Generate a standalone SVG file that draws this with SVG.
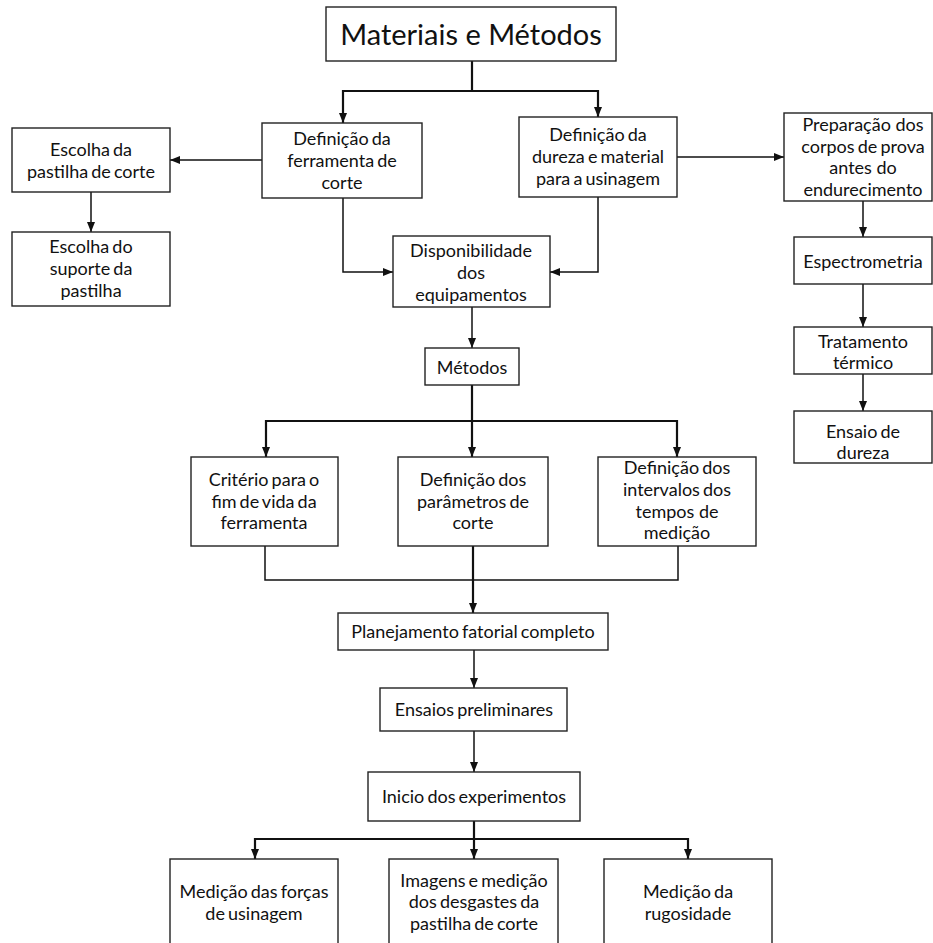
<svg xmlns="http://www.w3.org/2000/svg" width="933" height="943" viewBox="0 0 933 943">
<defs>
<style>
.box{fill:#fff;stroke:#222;stroke-width:1.4}
.t{font-family:Lato,"Open Sans",sans-serif;font-size:18px;fill:#111;text-anchor:middle;word-spacing:-1.5px}
.ws{word-spacing:0}
.title{font-family:Lato,"Open Sans",sans-serif;font-size:29px;fill:#111;text-anchor:middle}
.c{fill:none;stroke:#111;stroke-width:1.5}
.c2{fill:none;stroke:#111;stroke-width:2.2}
</style>
<marker id="ah" markerUnits="userSpaceOnUse" markerWidth="10" markerHeight="10" viewBox="0 0 10 10" refX="10" refY="5" orient="auto">
<path d="M0,1 L10,5 L0,9 Z" fill="#111"/>
</marker>
</defs>
<rect width="933" height="943" fill="#fff"/>
<g id="connectors">
<path class="c2" d="M472,61 V91 H343 V123" marker-end="url(#ah)"/>
<path class="c2" d="M472,91 H598 V117" marker-end="url(#ah)"/>
<path class="c" d="M262,160 H170" marker-end="url(#ah)"/>
<path class="c" d="M91,192 V232" marker-end="url(#ah)"/>
<path class="c" d="M343,198 V272 H393" marker-end="url(#ah)"/>
<path class="c" d="M598,197 V272 H550" marker-end="url(#ah)"/>
<path class="c" d="M677,157 H784" marker-end="url(#ah)"/>
<path class="c" d="M863,201 V237" marker-end="url(#ah)"/>
<path class="c" d="M863,284 V327" marker-end="url(#ah)"/>
<path class="c" d="M863,374 V411" marker-end="url(#ah)"/>
<path class="c" d="M472,307 V348" marker-end="url(#ah)"/>
<path class="c2" d="M472,385 V421 H266 V457" marker-end="url(#ah)"/>
<path class="c2" d="M472,421 V457" marker-end="url(#ah)"/>
<path class="c2" d="M472,421 H677 V457" marker-end="url(#ah)"/>
<path class="c" d="M265,546 V580 H678 V546"/>
<path class="c2" d="M473,546 V613" marker-end="url(#ah)"/>
<path class="c" d="M474,650 V688" marker-end="url(#ah)"/>
<path class="c" d="M474,731 V772" marker-end="url(#ah)"/>
<path class="c2" d="M474,821 V839 H255 V859" marker-end="url(#ah)"/>
<path class="c2" d="M474,839 V859" marker-end="url(#ah)"/>
<path class="c2" d="M474,839 H688 V859" marker-end="url(#ah)"/>
</g>
<g id="title"><rect class="box" x="326" y="7" width="290" height="54"/><text class="title" x="471" y="45">Materiais e Métodos</text></g>
<g id="escolhaPastilha"><rect class="box" x="12" y="128" width="158" height="64"/><text class="t" x="91" y="156">Escolha da</text><text class="t" x="91" y="178">pastilha de corte</text></g>
<g id="escolhaSuporte"><rect class="box" x="12" y="232" width="158" height="74"/><text class="t" x="91" y="253">Escolha do</text><text class="t" x="91" y="275">suporte da</text><text class="t" x="91" y="297">pastilha</text></g>
<g id="ferramenta"><rect class="box" x="262" y="123" width="160" height="75"/><text class="t" x="342" y="145">Definição da</text><text class="t" x="342" y="167">ferramenta de</text><text class="t" x="342" y="189">corte</text></g>
<g id="dureza"><rect class="box" x="519" y="117" width="158" height="80"/><text class="t" x="598" y="141">Definição da</text><text class="t" x="598" y="163">dureza e material</text><text class="t" x="598" y="185">para a usinagem</text></g>
<g id="disponibilidade"><rect class="box" x="393" y="236" width="157" height="71"/><text class="t" x="471" y="257">Disponibilidade</text><text class="t" x="471" y="279">dos</text><text class="t" x="471" y="300.5">equipamentos</text></g>
<g id="preparacao"><rect class="box" x="784" y="113" width="148" height="88"/><text class="t ws" x="863" y="131">Preparação dos</text><text class="t" x="863" y="153">corpos de prova</text><text class="t ws" x="863" y="174">antes do</text><text class="t" x="863" y="196">endurecimento</text></g>
<g id="espectrometria"><rect class="box" x="794" y="237" width="138" height="47"/><text class="t" x="863" y="268">Espectrometria</text></g>
<g id="tratamento"><rect class="box" x="794" y="327" width="138" height="47"/><text class="t" x="863" y="348">Tratamento</text><text class="t" x="863" y="369">térmico</text></g>
<g id="ensaioDureza"><rect class="box" x="794" y="411" width="138" height="52"/><text class="t" x="863" y="438">Ensaio de</text><text class="t" x="863" y="459">dureza</text></g>
<g id="metodos"><rect class="box" x="425" y="348" width="94" height="37"/><text class="t" x="472" y="374">Métodos</text></g>
<g id="criterio"><rect class="box" x="191" y="457" width="147" height="89"/><text class="t" x="264" y="486">Critério para o</text><text class="t" x="264" y="508">fim de vida da</text><text class="t" x="264" y="529">ferramenta</text></g>
<g id="parametros"><rect class="box" x="398" y="457" width="150" height="89"/><text class="t" x="473" y="486">Definição dos</text><text class="t" x="473" y="508">parâmetros de</text><text class="t" x="473" y="529">corte</text></g>
<g id="intervalos"><rect class="box" x="598" y="457" width="158" height="89"/><text class="t" x="677" y="474">Definição dos</text><text class="t" x="677" y="496">intervalos dos</text><text class="t ws" x="677" y="518">tempos de</text><text class="t" x="677" y="539">medição</text></g>
<g id="planejamento"><rect class="box" x="338" y="613" width="270" height="37"/><text class="t" x="473" y="638">Planejamento fatorial completo</text></g>
<g id="ensaios"><rect class="box" x="380" y="688" width="187" height="43"/><text class="t" x="474" y="716">Ensaios preliminares</text></g>
<g id="inicio"><rect class="box" x="368" y="772" width="212" height="49"/><text class="t" x="474" y="803">Inicio dos experimentos</text></g>
<g id="medicaoForcas"><rect class="box" x="170" y="859" width="168" height="95"/><text class="t" x="254" y="898">Medição das forças</text><text class="t" x="254" y="920">de usinagem</text></g>
<g id="imagens"><rect class="box" x="389" y="859" width="169" height="95"/><text class="t" x="474" y="887">Imagens e medição</text><text class="t" x="474" y="908">dos desgastes da</text><text class="t" x="474" y="930">pastilha de corte</text></g>
<g id="rugosidade"><rect class="box" x="604" y="859" width="168" height="95"/><text class="t" x="688" y="898">Medição da</text><text class="t" x="688" y="920">rugosidade</text></g>
</svg>
